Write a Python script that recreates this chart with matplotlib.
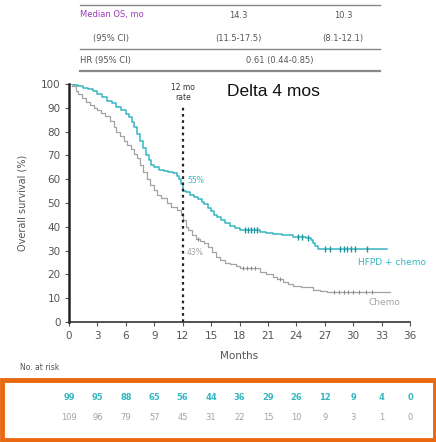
import matplotlib
matplotlib.use("Agg")
import matplotlib.pyplot as plt
from matplotlib.patches import Rectangle

# ---- data ----
months_ticks = [0, 3, 6, 9, 12, 15, 18, 21, 24, 27, 30, 33, 36]
surv_ticks = [0, 10, 20, 30, 40, 50, 60, 70, 80, 90, 100]

rate12_hfpd = 55
rate12_chemo = 43

hfpd_t = [0, 0.5, 1.0, 1.5, 2.0, 2.5, 3.0, 3.5, 4.0, 4.5, 5.0, 5.5, 6.0, 6.3,
          6.6, 6.9, 7.2, 7.5, 7.8, 8.1, 8.4, 8.7, 9.0, 9.5, 10.0, 10.5, 11.0,
          11.4, 11.6, 11.8, 12.0, 12.4, 12.8, 13.2, 13.6, 14.0, 14.3, 14.7,
          15.0, 15.3, 15.6, 16.0, 16.5, 17.0, 17.5, 18.0, 20.2, 20.8, 21.5,
          22.5, 23.6, 25.0, 25.5, 25.8, 26.0, 26.3, 33.6]
hfpd_s = [100, 99.5, 99, 98.5, 98, 97, 96, 94.5, 93, 92, 90.5, 89, 87.5, 86,
          84, 82, 79, 76, 73, 70, 68, 66, 65, 64, 63.5, 63, 62.5,
          61.5, 60, 58, rate12_hfpd, 54.5, 53.5, 52.5, 51.5, 50.5, 49.5, 48,
          46.5, 45, 44, 43, 41.5, 40.5, 39.5, 38.8, 38, 37.5, 36.8,
          36.5, 35.8, 35.3, 34.5, 33, 31.8, 30.5, 30.5]
hfpd_cens_t = [18.6, 18.9, 19.2, 19.5, 19.8, 24.2, 24.6, 25.2, 27.0, 27.6,
               28.6, 29.0, 29.4, 29.8, 30.2, 31.5]

chemo_t = [0, 0.3, 0.7, 1.0, 1.4, 1.8, 2.2, 2.6, 3.0, 3.4, 3.8, 4.3, 4.7, 5.0,
           5.4, 5.8, 6.1, 6.5, 6.9, 7.2, 7.5, 7.8, 8.2, 8.6, 9.0, 9.3, 9.7,
           10.3, 10.8, 11.4, 11.8, 12.0, 12.3, 12.6, 13.0, 13.4, 13.8, 14.3,
           14.7, 15.1, 15.5, 15.9, 16.5, 17.0, 17.6, 18.0, 20.2, 20.8, 21.5,
           22.0, 22.6, 23.1, 23.6, 24.5, 25.8, 26.5, 27.2, 33.9]
chemo_s = [100, 99, 97, 96, 94, 92.5, 91, 90, 89, 88, 86.5, 84.5, 82, 80,
           78, 76, 74.5, 72.5, 70.5, 69, 66, 63, 60, 57.5, 55.5, 53.5, 52,
           50, 48.5, 47, 45, rate12_chemo, 40, 38.5, 36.5, 35, 34, 33,
           31.5, 29.5, 27.5, 26, 25, 24.3, 23.5, 22.5, 21, 20, 19,
           18, 17, 16, 15, 14.5, 13.5, 13, 12.5, 12.5]
chemo_cens_t = [13.6, 18.4, 18.8, 19.2, 19.6, 22.3, 28.0, 28.5, 29.0, 29.5,
                30.0, 30.6, 31.4, 32.0]

at_risk_hfpd = [99, 95, 88, 65, 56, 44, 36, 29, 26, 12, 9, 4, 0]
at_risk_chemo = [109, 96, 79, 57, 45, 31, 22, 15, 10, 9, 3, 1, 0]

table_rows = [
    ("Median OS, mo", "14.3", "10.3"),
    ("(95% CI)", "(11.5-17.5)", "(8.1-12.1)"),
]
hr_label = "HR (95% CI)"
hr_value = "0.61 (0.44-0.85)"

TEAL = "#35b7c1"
GRAY = "#a3a3a3"
TXT = "#555555"

W, H = 436, 442
fig = plt.figure(figsize=(W / 100, H / 100), dpi=100)


def fx(px):
    return px / W


def fy(py):
    return 1 - py / H


ax = fig.add_axes([fx(69), fy(322), fx(410) - fx(69), fy(84) - fy(322)])


def surv_at(ts, ss, x):
    val = ss[0]
    for t, s in zip(ts, ss):
        if t <= x:
            val = s
    return val


ax.step(hfpd_t, hfpd_s, where="post", color=TEAL, lw=1.1)
ax.step(chemo_t, chemo_s, where="post", color=GRAY, lw=0.9)
ax.plot(hfpd_cens_t, [surv_at(hfpd_t, hfpd_s, t) for t in hfpd_cens_t],
        ls="none", marker="|", ms=4, mew=1.0, color="#1f8f99")
ax.plot(chemo_cens_t, [surv_at(chemo_t, chemo_s, t) for t in chemo_cens_t],
        ls="none", marker="|", ms=3.5, mew=0.8, color="#8a8a8a")

# 12-month landmark
ax.plot([12, 12], [0, 91], color="#222222", ls=(0, (1.2, 1.6)), lw=1.6)
ax.text(12, 96.5, "12 mo\nrate", ha="center", va="center", fontsize=5.5,
        color="#333333", linespacing=1.1)
ax.text(12.5, rate12_hfpd + 4.5, f"{rate12_hfpd}%", fontsize=5.5, color=TEAL,
        ha="left", va="center")
ax.text(12.4, 29, f"{rate12_chemo}%", fontsize=5.5, color=GRAY,
        ha="left", va="center")

ax.text(37.7, 24.8, "HFPD + chemo", fontsize=6.5, color=TEAL, ha="right", va="center")
ax.text(35.0, 8.0, "Chemo", fontsize=6.5, color=GRAY, ha="right", va="center")

ax.text(16.7, 97, "Delta 4 mos", fontsize=12.5, color="#111111",
        family="Liberation Sans", ha="left", va="center")

ax.set_xlim(0, 36)
ax.set_ylim(0, 100)
ax.set_xticks(months_ticks)
ax.set_yticks(surv_ticks)
ax.tick_params(labelsize=7.5, colors=TXT, length=3, width=0.8)
ax.tick_params(axis="y", pad=3)
for lab in ax.get_xticklabels() + ax.get_yticklabels():
    lab.set_color(TXT)
for side in ("top", "right"):
    ax.spines[side].set_visible(False)
ax.spines["left"].set_linewidth(1.8)
ax.spines["left"].set_color("#222222")
ax.spines["bottom"].set_linewidth(1.2)
ax.spines["bottom"].set_color("#333333")
ax.set_xlabel("Months", fontsize=7.5, color=TXT, labelpad=7)
ax.set_ylabel("Overall survival (%)", fontsize=7, color=TXT, labelpad=10)

# summary table
fig.add_artist(plt.Line2D([fx(80), fx(380)], [fy(5), fy(5)], color="#888888", lw=1.0))
fig.add_artist(plt.Line2D([fx(80), fx(380)], [fy(49), fy(49)], color="#888888", lw=1.0))
fig.add_artist(plt.Line2D([fx(80), fx(380)], [fy(71), fy(71)], color="#888888", lw=1.6))
row_y = [15, 38]
label_x = [80, 93]
for (lab, a, b), y, lx in zip(table_rows, row_y, label_x):
    c = "#9b3cb4" if y == row_y[0] else TXT
    fig.text(fx(lx), fy(y), lab, fontsize=6, color=c, ha="left", va="center")
    fig.text(fx(238), fy(y), a, fontsize=6, color=TXT, ha="center", va="center")
    fig.text(fx(343), fy(y), b, fontsize=6, color=TXT, ha="center", va="center")
fig.text(fx(80), fy(61), hr_label, fontsize=6, color=TXT, ha="left", va="center")
fig.text(fx(280), fy(61), hr_value, fontsize=6, color=TXT, ha="center", va="center")

# numbers at risk
fig.text(fx(20), fy(367), "No. at risk", fontsize=5.5, color=TXT, ha="left", va="center")
for m, a, b in zip(months_ticks, at_risk_hfpd, at_risk_chemo):
    xp = ax.transData.transform((m, 0))[0] / fig.dpi / fig.get_figwidth()
    fig.text(xp, fy(397), str(a), fontsize=6, color=TEAL, ha="center",
             va="center", fontweight="bold")
    fig.text(xp, fy(418), str(b), fontsize=6, color=GRAY, ha="center", va="center")

fig.add_artist(Rectangle((fx(1.5), fy(439.5)), fx(433), fy(380) - fy(439.5),
                         transform=fig.transFigure, fill=False,
                         edgecolor="#e8690f", lw=3.5))

fig.savefig("out.png", dpi=100)
